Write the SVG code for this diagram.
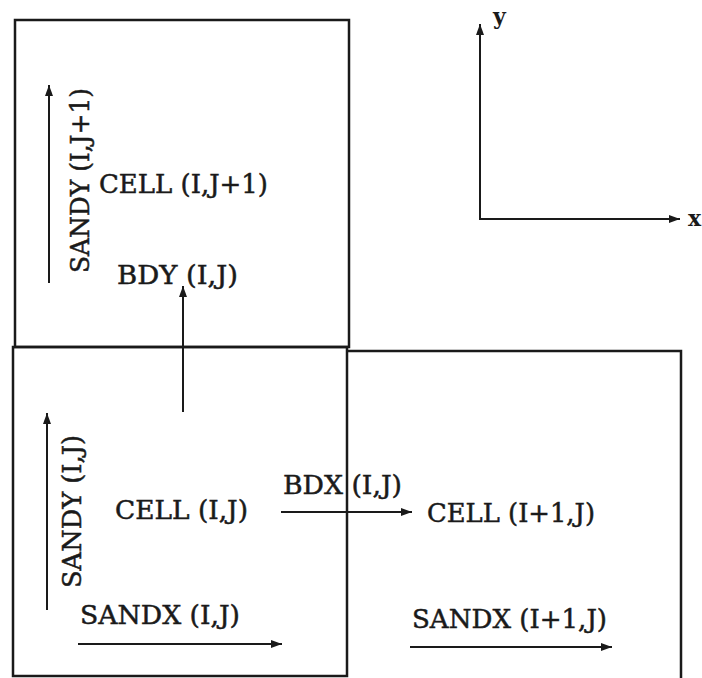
<svg xmlns="http://www.w3.org/2000/svg" width="702" height="678" viewBox="0 0 702 678">
<style>
.box{fill:none;stroke:#1a1a1a;stroke-width:2.5}
.arr{fill:none;stroke:#1a1a1a;stroke-width:2;marker-end:url(#ah)}
text{font-family:"DejaVu Serif","Liberation Serif",serif;font-size:26px;fill:#1a1a1a;stroke:#1a1a1a;stroke-width:0.5}
.ax{font-size:22px;font-weight:bold;stroke-width:0}
</style>
<defs>
<marker id="ah" markerUnits="userSpaceOnUse" markerWidth="12" markerHeight="10" refX="11" refY="4" orient="auto">
<path d="M0,0 L11,4 L0,8 Z" fill="#1a1a1a"/>
</marker>
</defs>
<rect width="702" height="678" fill="#ffffff"/>
<g id="cell-i-j1">
<rect class="box" x="15" y="20" width="334" height="327"/>
<text x="99" y="193" textLength="169" lengthAdjust="spacingAndGlyphs">CELL (I,J+1)</text>
<text transform="translate(89,273) rotate(-90)" textLength="185" lengthAdjust="spacingAndGlyphs">SANDY (I,J+1)</text>
<text x="117" y="284" textLength="121" lengthAdjust="spacingAndGlyphs">BDY (I,J)</text>
</g>
<g id="cell-i-j">
<rect class="box" x="13" y="347" width="334" height="329"/>
<text x="115" y="519" textLength="133" lengthAdjust="spacingAndGlyphs">CELL (I,J)</text>
<text transform="translate(81,588) rotate(-90)" textLength="153" lengthAdjust="spacingAndGlyphs">SANDY (I,J)</text>
<text x="80" y="624" textLength="160" lengthAdjust="spacingAndGlyphs">SANDX (I,J)</text>
<text x="283" y="494" textLength="119" lengthAdjust="spacingAndGlyphs">BDX (I,J)</text>
</g>
<g id="cell-i1-j">
<path class="box" d="M347,351 L681,351 L681,690"/>
<text x="427" y="522" textLength="168" lengthAdjust="spacingAndGlyphs">CELL (I+1,J)</text>
<text x="412" y="628" textLength="195" lengthAdjust="spacingAndGlyphs">SANDX (I+1,J)</text>
</g>
<g id="axes">
<text class="ax" x="493" y="24">y</text>
<text class="ax" x="688" y="226">x</text>
</g>
<g id="connectors">
<line class="arr" x1="49" y1="283" x2="49" y2="85"/>
<line class="arr" x1="183" y1="412" x2="183" y2="286"/>
<line class="arr" x1="47" y1="610" x2="47" y2="413"/>
<line class="arr" x1="281" y1="512" x2="412" y2="512"/>
<line class="arr" x1="78" y1="644" x2="282" y2="644"/>
<line class="arr" x1="410" y1="647" x2="612" y2="647"/>
<line class="arr" x1="480" y1="220" x2="480" y2="24"/>
<line class="arr" x1="479" y1="219" x2="680" y2="219"/>
</g>
</svg>
